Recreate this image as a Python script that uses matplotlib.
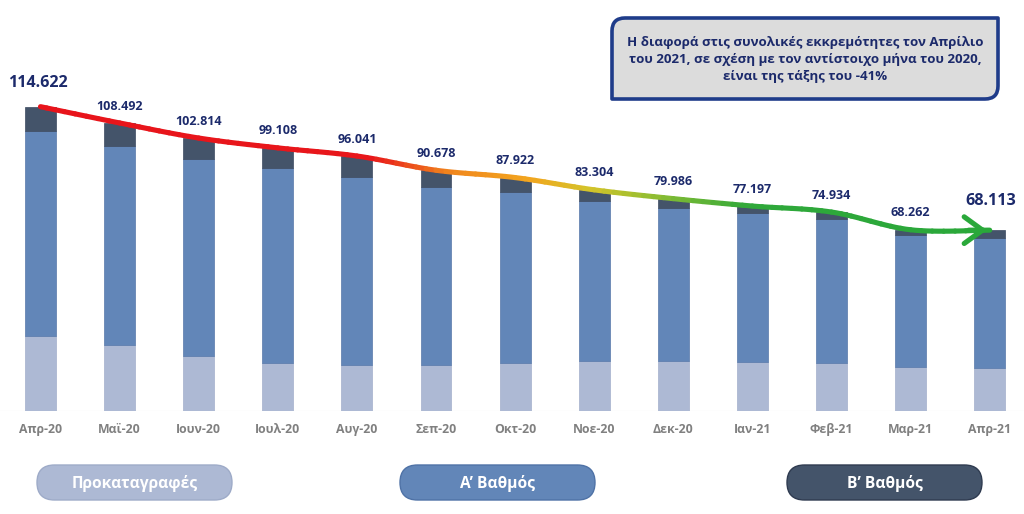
import matplotlib
matplotlib.use("Agg")
import matplotlib.pyplot as plt
from matplotlib.path import Path
from matplotlib.patches import PathPatch, FancyBboxPatch, FancyArrowPatch
from matplotlib.colors import LinearSegmentedColormap
import numpy as np

plt.rcParams['font.family'] = ['Open Sans', 'DejaVu Sans']

# ---------------- data ----------------
months = ["Απρ-20", "Μαϊ-20", "Ιουν-20", "Ιουλ-20", "Αυγ-20", "Σεπ-20", "Οκτ-20",
          "Νοε-20", "Δεκ-20", "Ιαν-21", "Φεβ-21", "Μαρ-21", "Απρ-21"]
preregistrations = [28.2, 24.9, 20.8, 18.0, 17.3, 17.2, 18.0, 18.8, 18.8, 18.3, 18.0, 16.7, 16.2]
first_degree = [77.2, 74.9, 74.1, 73.4, 70.8, 67.1, 64.6, 60.4, 57.5, 56.4, 54.5, 49.6, 49.1]
second_degree = [9.2, 8.7, 7.9, 7.7, 7.9, 6.4, 5.3, 4.1, 3.7, 2.5, 2.4, 2.0, 2.8]
totals = [114.622, 108.492, 102.814, 99.108, 96.041, 90.678, 87.922,
          83.304, 79.986, 77.197, 74.934, 68.262, 68.113]
total_labels = ["114.622", "108.492", "102.814", "99.108", "96.041", "90.678", "87.922",
                "83.304", "79.986", "77.197", "74.934", "68.262", "68.113"]
legend_labels = ["Προκαταγραφές", "Α\u2019 Βαθμός", "Β\u2019 Βαθμός"]
note_text = ("Η διαφορά στις συνολικές εκκρεμότητες τον Απρίλιο\n"
             "του 2021, σε σχέση με τον αντίστοιχο μήνα του 2020,\n"
             "είναι της τάξης του -41%")

# ---------------- style ----------------
c_light = "#adb9d4"
c_mid = "#6286b8"
c_dark = "#44546a"
c_label = "#1c2a6b"
c_tick = "#808080"

W, H = 1024, 514
fig = plt.figure(figsize=(W / 100, H / 100), dpi=100)
fig.patch.set_facecolor("white")

base_px = 411.0
px_per_unit = 2.655
ax = fig.add_axes([0, (H - base_px) / H, 1, base_px / H])
ax.set_xlim(-0.512, 12.434)
ax.set_ylim(0, base_px / px_per_unit)
for s in ax.spines.values():
    s.set_visible(False)
ax.set_yticks([])

x = np.arange(len(months))
bw = 0.39
light = np.array(preregistrations)
mid = np.array(first_degree)
dark = np.array(second_degree)
ax.bar(x, light, bw, color=c_light, edgecolor="#a3afcb", linewidth=0.5, zorder=2)
ax.bar(x, mid, bw, bottom=light, color=c_mid, edgecolor="#5878aa", linewidth=0.5, zorder=2)
ax.bar(x, dark, bw, bottom=light + mid, color=c_dark, edgecolor="#3c4a60", linewidth=0.5, zorder=2)
ax.axhline(0, color="#e4e4e4", lw=0.8, zorder=1)

ax.set_xticks(x)
ax.set_xticklabels(months, fontsize=8.8, fontweight="bold", color=c_tick)
ax.tick_params(axis="x", length=0, pad=8.5)

# ---------------- trend line with gradient ----------------
cmap = LinearSegmentedColormap.from_list("trend", [
    (0.0, "#e8141b"), (4.2 / 12, "#e8171b"), (5.2 / 12, "#f0861d"),
    (6.2 / 12, "#f2a51f"), (7.0 / 12, "#d3c42a"), (8.0 / 12, "#7fbb34"),
    (9.0 / 12, "#2fa83a"), (1.0, "#2aa83a")])

pts = np.column_stack([x, totals]).astype(float)
n = len(pts)


def lerp(a, b, t):
    return a + (b - a) * t


def split(p0, p1, p2, p3, t):
    a = lerp(p0, p1, t); b = lerp(p1, p2, t); c = lerp(p2, p3, t)
    d = lerp(a, b, t); e = lerp(b, c, t); f = lerp(d, e, t)
    return (p0, a, d, f), (f, e, c, p3)


lw_line = 3.7
for i in range(n - 1):
    p0 = pts[i]
    p3 = pts[i + 1]
    pm = pts[i - 1] if i > 0 else pts[i]
    pp = pts[i + 2] if i + 2 < n else pts[i + 1]
    p1 = p0 + (p3 - pm) / 6.0
    p2 = p3 - (pp - p0) / 6.0
    rem = (p0, p1, p2, p3)
    k = 8
    for j in range(k):
        t = 1.0 / (k - j)
        if j < k - 1:
            piece, rem = split(*rem, t)
        else:
            piece = rem
        xm = (piece[0][0] + piece[3][0]) / 2.0
        path = Path(np.array(piece), [Path.MOVETO, Path.CURVE4, Path.CURVE4, Path.CURVE4])
        ax.add_patch(PathPatch(path, facecolor="none", edgecolor=cmap(xm / 12.0),
                               lw=lw_line, capstyle="round", zorder=4))

arrow = FancyArrowPatch(posA=(x[-1] - 0.3, totals[-1]), posB=(x[-1], totals[-1]),
                        arrowstyle="->,head_length=0.55,head_width=0.4",
                        mutation_scale=24, lw=lw_line, color="#2aa83a",
                        capstyle="round", joinstyle="round", zorder=5)
ax.add_patch(arrow)

# ---------------- value labels ----------------
for i, (xi, tot, lab) in enumerate(zip(x, totals, total_labels)):
    if i == 0:
        ax.annotate(lab, (xi, tot), xytext=(-2, 11.5), textcoords="offset points",
                    ha="center", va="bottom", fontsize=11.6, fontweight="bold",
                    color=c_label, zorder=6)
    elif i == n - 1:
        ax.annotate(lab, (xi, tot), xytext=(1, 15), textcoords="offset points",
                    ha="center", va="bottom", fontsize=11.6, fontweight="bold",
                    color=c_label, zorder=6)
    else:
        ax.annotate(lab, (xi, tot), xytext=(0, 7.5), textcoords="offset points",
                    ha="center", va="bottom", fontsize=9.0, fontweight="bold",
                    color=c_label, zorder=6)

# ---------------- overlay (pixel layout) ----------------
ov = fig.add_axes([0, 0, 1, 1], zorder=10)
ov.set_xlim(0, W)
ov.set_ylim(H, 0)
ov.axis("off")
ov.patch.set_alpha(0)

# info box with diagonal rounded corners
x0, x1, y0, y1, r = 612, 998, 18, 99, 13
verts = [(x0, y0 + r), (x0, y0), (x0 + r, y0),
         (x1, y0), (x1, y1 - r), (x1, y1), (x1 - r, y1),
         (x0, y1), (x0, y0 + r)]
codes = [Path.MOVETO, Path.CURVE3, Path.CURVE3,
         Path.LINETO, Path.LINETO, Path.CURVE3, Path.CURVE3,
         Path.LINETO, Path.CLOSEPOLY]
ov.add_patch(PathPatch(Path(verts, codes), facecolor="#dcdcdc", edgecolor="#1f3c8a",
                       lw=2.6, joinstyle="round"))
ov.text((x0 + x1) / 2, (y0 + y1) / 2 + 1, note_text, ha="center", va="center",
        fontsize=9.5, fontweight="bold", color=c_label, linespacing=1.4)

# legend pills
pill_specs = [(37, c_light, "#9eabc8"), (400, c_mid, "#4f72a6"), (787, c_dark, "#2f3b50")]
pw, ph = 195, 35
py0 = 465
for (px0, fc, ec), lab in zip(pill_specs, legend_labels):
    ov.add_patch(FancyBboxPatch((px0, py0), pw, ph,
                                boxstyle="round,pad=0,rounding_size=17.5",
                                facecolor=fc, edgecolor=ec, lw=1.0))
    ov.text(px0 + pw / 2, py0 + ph / 2 + 1, lab, ha="center", va="center",
            fontsize=11.2, fontweight="bold", color="white")

fig.savefig("out.png", dpi=100, facecolor="white")
